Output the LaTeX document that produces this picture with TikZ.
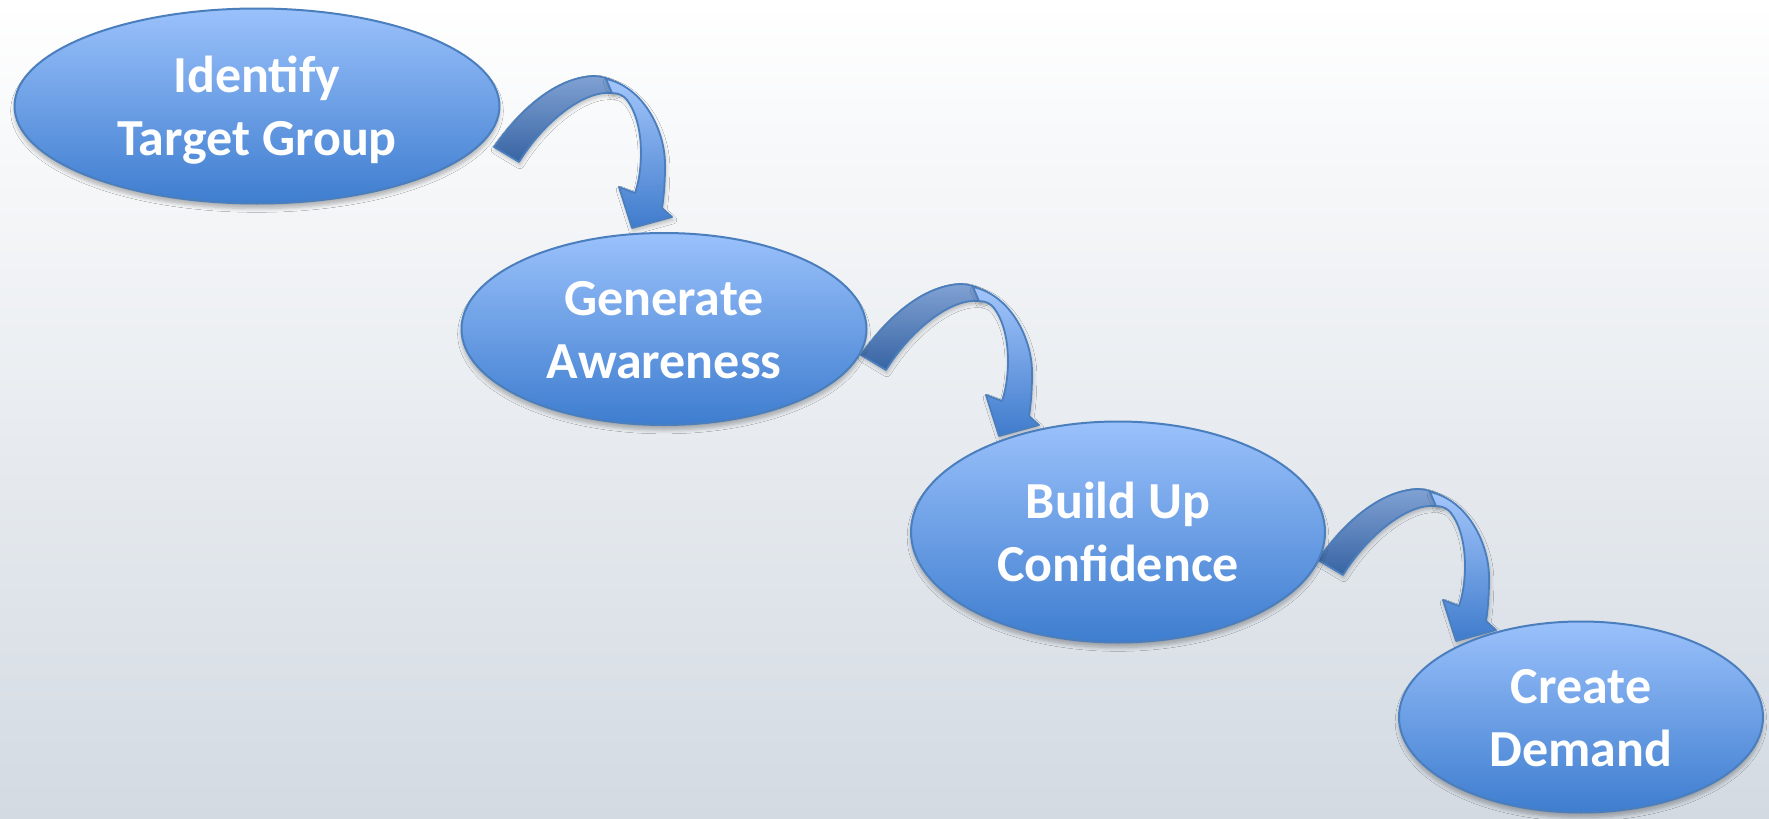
\documentclass[tikz,border=0pt]{standalone}
\usepackage{fontspec}
\setmainfont{Carlito}
\usetikzlibrary{shapes.geometric,shadows.blur}
\definecolor{bgbot}{HTML}{D3DAE2}
\definecolor{elltop}{HTML}{9AC1FB}
\definecolor{ellbot}{HTML}{3E7DCF}
\definecolor{edgeblue}{HTML}{4A7EBD}
\definecolor{uptop}{HTML}{80A1D3}
\definecolor{upbot}{HTML}{3764A3}
\definecolor{dntop}{HTML}{A3C6FB}
\definecolor{dnbot}{HTML}{3F7BCC}
\newcommand\stTop{\rule{0pt}{24.5pt}}
\newcommand\stBot{\rule[-7pt]{0pt}{7pt}}
\begin{document}
\begin{tikzpicture}[x=0.5pt,y=-0.5pt,
  stage/.style={ellipse, draw=edgeblue, line width=1pt, top color=elltop, bottom color=ellbot,
    inner sep=0pt, text=white, font=\fontsize{26}{31.5}\selectfont\bfseries, align=center,
    blur shadow={shadow xshift=0pt, shadow yshift=-2.5pt, shadow blur steps=6, shadow opacity=28}},
  bandup/.style={draw=edgeblue, line width=0.9pt, line join=round, top color=uptop, bottom color=upbot,
    blur shadow={shadow xshift=0.5pt, shadow yshift=-1.5pt, shadow blur steps=4, shadow opacity=25}},
  banddn/.style={draw=edgeblue, line width=0.9pt, line join=round, top color=dntop, bottom color=dnbot,
    blur shadow={shadow xshift=0.5pt, shadow yshift=-1.5pt, shadow blur steps=4, shadow opacity=25}},
  curvarr/.pic={
    \path[bandup]
      (0,0) .. controls (26,-37) and (61,-69) .. (99,-71)
      .. controls (111,-71) and (121,-66) .. (129,-59)
      -- (118,-54) .. controls (91,-57) and (51,-27) .. (25,15) -- cycle;
    \path[banddn]
      (112,-68) .. controls (150,-60) and (172,-15) .. (171,20)
      .. controls (171,40) and (169,55) .. (168,61)
      -- (178,70) -- (138,81) -- (125,40) -- (141,46)
      .. controls (150,20) and (150,-25) .. (133,-47)
      .. controls (130,-51) and (125,-54) .. (118,-54) -- cycle;
  }]
\useasboundingbox (0,0) rectangle (1769,819);
\shade[top color=white, bottom color=bgbot] (0,0) rectangle (1769,819);

\coordinate (t1) at (494,147);
\coordinate (t2) at (861,355);
\coordinate (t3) at (1318,560);
\pic (a1) at (t1) {curvarr};
\pic (a2) at (t2) {curvarr};
\pic (a3) at (t3) {curvarr};

\node[stage, minimum width=242.5pt, minimum height=97.5pt] (n1) at (257,106)
  {\stTop Identify\\ \stBot Target Group};
\node[stage, minimum width=202.5pt, minimum height=96pt] (n2) at (664,329)
  {\stTop Generate\\ \stBot Awareness};
\node[stage, minimum width=207pt, minimum height=110.5pt] (n3) at (1118,532)
  {\stTop Build Up\\ \stBot Confidence};
\node[stage, minimum width=182pt, minimum height=95.5pt] (n4) at (1581,717)
  {\stTop Create\\ \stBot Demand};
\end{tikzpicture}
\end{document}
